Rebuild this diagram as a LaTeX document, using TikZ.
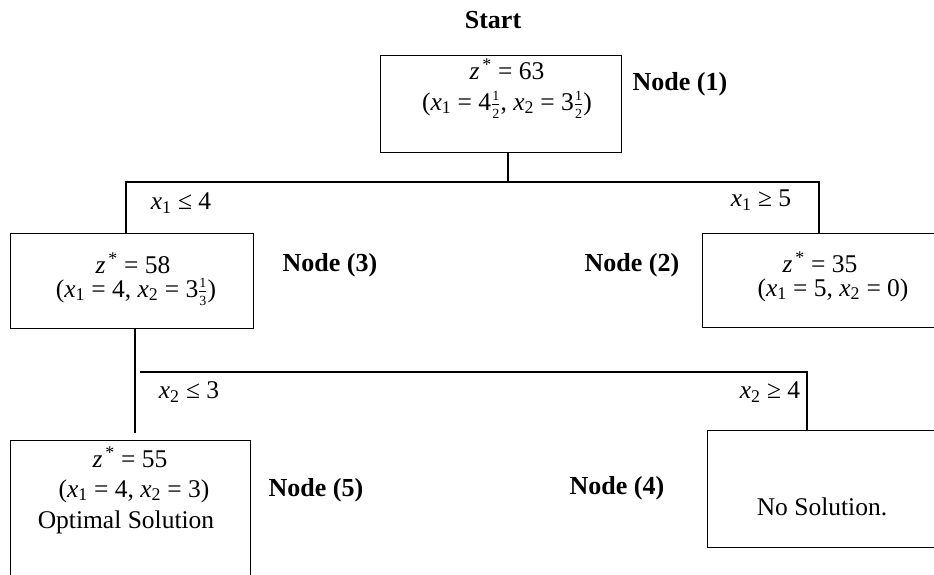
\documentclass[tikz,border=0pt]{standalone}
\usepackage{fontspec}
\setmainfont{Liberation Serif}
\newcommand{\xs}[1]{\textit{x}\textsubscript{#1}}
\newcommand{\zs}{\textit{z}\textsuperscript{\,*}}
\newcommand{\hfr}[2]{$\frac{\mbox{\fontsize{14}{14}\selectfont #1}}{\mbox{\fontsize{14}{14}\selectfont #2}}$}
\begin{document}
\begin{tikzpicture}[x=1pt,y=-1pt,
  box/.style={draw, line width=1.3pt, inner sep=0pt, anchor=north west},
  txt/.style={inner sep=0pt, font=\fontsize{25.5}{29}\selectfont},
  lbl/.style={inner sep=0pt, font=\fontsize{26}{30}\selectfont\bfseries},
  wire/.style={line width=1.5pt}]
\useasboundingbox (0,0) rectangle (934,574);
\clip (0,0) rectangle (934,574);
% boxes
\node[box, minimum width=241pt, minimum height=97pt] (b1) at (380,55) {};
\node[box, minimum width=243pt, minimum height=95pt] (b3) at (10,233) {};
\node[box, minimum width=260pt, minimum height=94pt] (b2) at (702,233) {};
\node[box, minimum width=240pt, minimum height=170pt] (b5) at (10,440) {};
\node[box, minimum width=260pt, minimum height=117pt] (b4) at (707,430) {};
% texts
\node[lbl] (st) at (493,20) {Start};
\node[txt] (t1a) at (507,69) {\zs{} = 63};
\node[txt] (t1b) at (507,105) {(\xs1 = 4\hfr12, \xs2 = 3\hfr12)};
\node[lbl] (l1) at (680,84) {Node (1)};
\node[txt] (t3a) at (133,263) {\zs{} = 58};
\node[txt] (t3b) at (136,292) {(\xs1 = 4, \xs2 = 3\hfr13)};
\node[lbl] (l3) at (330,265) {Node (3)};
\node[lbl] (l2) at (632,265) {Node (2)};
\node[txt] (t2a) at (820,262) {\zs{} = 35};
\node[txt] (t2b) at (833,290) {(\xs1 = 5, \xs2 = 0)};
\node[txt] (t5a) at (130,457) {\zs{} = 55};
\node[txt] (t5b) at (134,491) {(\xs1 = 4, \xs2 = 3)};
\node[txt] (t5c) at (126,522) {Optimal Solution};
\node[lbl] (l5) at (316,490) {Node (5)};
\node[lbl] (l4) at (617,488) {Node (4)};
\node[txt] (t4) at (822,507) {No Solution.};
% branch labels
\node[txt] (c1) at (181,203) {\xs1 ≤ 4};
\node[txt] (c2) at (761,200) {\xs1 ≥ 5};
\node[txt] (c3) at (189,392) {\xs2 ≤ 3};
\node[txt] (c4) at (770,392) {\xs2 ≥ 4};
% connectors
\coordinate (v1) at (508,182);
\coordinate (hl) at (126,182);
\coordinate (hr) at (819,182);
\draw[wire] (v1 |- b1.south) -- (v1);
\draw[wire] (hl |- b3.north) -- (hl) -- (hr) -- (hr |- b2.north);
\coordinate (v3) at (135,433);
\draw[wire] (v3 |- b3.south) -- (v3);
\coordinate (hl2) at (140,372);
\coordinate (hr2) at (807,372);
\draw[wire] (hl2) -- (hr2) -- (hr2 |- b4.north);
\end{tikzpicture}
\end{document}
